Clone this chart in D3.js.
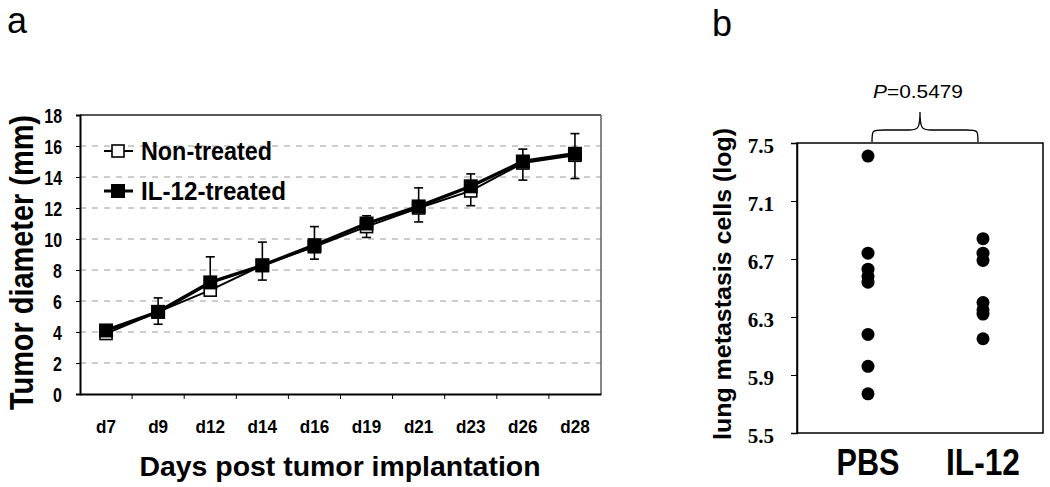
<!DOCTYPE html>
<html><head><meta charset="utf-8">
<script src="https://cdn.jsdelivr.net/npm/d3@7"></script>
<style>body{margin:0;background:#fff}svg{display:block}</style>
</head><body><svg id="c" width="1050" height="487"></svg>
<script>
// ---------- data (panel a) ----------
const days = ["d7","d9","d12","d14","d16","d19","d21","d23","d26","d28"];
const nonTreated = [3.9, 5.3, 6.7, 8.3, 9.5, 10.8, 12.0, 13.1, 14.9, 15.4];
const il12Treated = [4.1, 5.3, 7.2, 8.3, 9.6, 11.0, 12.1, 13.4, 15.0, 15.5];
const errTop = [4.3, 6.2, 8.85, 9.8, 10.8, 11.5, 13.3, 14.2, 15.8, 16.8];
const errBottom = [3.75, 4.5, 6.35, 7.35, 8.7, 10.1, 11.1, 12.15, 13.8, 13.9];
const yTicksA = [0, 2, 4, 6, 8, 10, 12, 14, 16, 18];
// ---------- data (panel b) ----------
const groups = ["PBS", "IL-12"];
const pbsValues = [7.41, 6.74, 6.63, 6.58, 6.54, 6.18, 5.96, 5.77];
const il12Values = [6.84, 6.74, 6.69, 6.40, 6.35, 6.32, 6.15];
const yTicksB = [5.5, 5.9, 6.3, 6.7, 7.1, 7.5];
const pLabel = "0.5479";

const svg = d3.select("#c");
const SANS = "'Liberation Sans', Arial, sans-serif";
const SERIF = "'Liberation Serif', 'Times New Roman', serif";
function squeeze(sel, k) {
  sel.each(function () {
    const w = this.getComputedTextLength();
    d3.select(this).attr("textLength", w * k).attr("lengthAdjust", "spacingAndGlyphs");
  });
}

// ================= PANEL A =================
const A = {l: 80, r: 601, t: 115, b: 394};
const x = d3.scaleBand().domain(days).range([A.l, A.r]).padding(0);
const y = d3.scaleLinear().domain([0, 18]).range([A.b, A.t]);
const cx = d => x(d) + x.bandwidth() / 2;

svg.append("text").attr("x", 7).attr("y", 33).attr("font-family", SANS)
  .attr("font-size", 37).attr("textLength", 20).attr("lengthAdjust", "spacingAndGlyphs").text("a");

// grid
svg.append("g").selectAll("line").data(yTicksA.filter(v => v > 0 && v < 18)).join("line")
  .attr("x1", A.l).attr("x2", A.r).attr("y1", d => y(d)).attr("y2", d => y(d))
  .attr("stroke", "#9a9a9a").attr("stroke-width", 1).attr("stroke-dasharray", "6,6");

// frame
svg.append("line").attr("x1", A.l).attr("x2", A.r).attr("y1", A.t).attr("y2", A.t).attr("stroke", "#222").attr("stroke-width", 1.6);
svg.append("line").attr("x1", A.r).attr("x2", A.r).attr("y1", A.t).attr("y2", A.b).attr("stroke", "#555").attr("stroke-width", 1.4);

// y axis
const yAx = svg.append("g").attr("transform", `translate(${A.l},0)`)
  .call(d3.axisLeft(y).tickValues(yTicksA).tickSize(4).tickPadding(14).tickFormat(d3.format("d")));
yAx.select(".domain").attr("stroke", "#000").attr("stroke-width", 2);
yAx.selectAll(".tick line").attr("stroke", "#000");
yAx.selectAll("text").attr("font-family", SANS).attr("font-weight", "bold").attr("font-size", 21)
  .attr("fill", "#000").attr("dy", "0.36em").call(squeeze, 0.76);

// x axis
const xAx = svg.append("g").attr("transform", `translate(0,${A.b})`)
  .call(d3.axisBottom(x).tickSize(0));
xAx.select(".domain").attr("stroke", "#000").attr("stroke-width", 2);
xAx.selectAll("text").attr("font-family", SANS).attr("font-weight", "bold").attr("font-size", 19)
  .attr("fill", "#000").attr("y", 39).attr("dy", 0).call(squeeze, 0.9);
// boundary ticks
svg.append("g").selectAll("line").data(days.slice(1)).join("line")
  .attr("x1", d => x(d)).attr("x2", d => x(d)).attr("y1", A.b).attr("y2", A.b + 5)
  .attr("stroke", "#000").attr("stroke-width", 1);

// titles
svg.append("text").attr("transform", `translate(33,${(A.t + A.b) / 2 + 8}) rotate(-90)`)
  .attr("text-anchor", "middle").attr("font-family", SANS).attr("font-weight", "bold")
  .attr("font-size", 33).attr("textLength", 295).attr("lengthAdjust", "spacingAndGlyphs")
  .text("Tumor diameter (mm)");
svg.append("text").attr("x", 340).attr("y", 476).attr("text-anchor", "middle")
  .attr("font-family", SANS).attr("font-weight", "bold").attr("font-size", 27)
  .attr("textLength", 401).attr("lengthAdjust", "spacingAndGlyphs")
  .text("Days post tumor implantation");

// error bars
const eb = svg.append("g").attr("stroke", "#000").attr("stroke-width", 1.6);
days.forEach((d, i) => {
  eb.append("line").attr("x1", cx(d)).attr("x2", cx(d)).attr("y1", y(errTop[i])).attr("y2", y(errBottom[i]));
  [errTop[i], errBottom[i]].forEach(v => eb.append("line").attr("x1", cx(d) - 4.5).attr("x2", cx(d) + 4.5)
    .attr("y1", y(v)).attr("y2", y(v)));
});

// lines
const lineGen = d3.line().x((v, i) => cx(days[i])).y(v => y(v));
svg.append("path").datum(nonTreated).attr("d", lineGen).attr("fill", "none").attr("stroke", "#000").attr("stroke-width", 2);
svg.append("g").selectAll("rect").data(nonTreated).join("rect")
  .attr("x", (v, i) => cx(days[i]) - 6).attr("y", v => y(v) - 6).attr("width", 12).attr("height", 12)
  .attr("fill", "#fff").attr("stroke", "#000").attr("stroke-width", 1.6);
svg.append("path").datum(il12Treated).attr("d", lineGen).attr("fill", "none").attr("stroke", "#000").attr("stroke-width", 3.4);
svg.append("g").selectAll("rect").data(il12Treated).join("rect")
  .attr("x", (v, i) => cx(days[i]) - 7).attr("y", v => y(v) - 7).attr("width", 14).attr("height", 14)
  .attr("fill", "#000");

// legend
const leg = [{name: "Non-treated", open: true, y: 151}, {name: "IL-12-treated", open: false, y: 191}];
leg.forEach(L => {
  svg.append("line").attr("x1", 104).attr("x2", 133).attr("y1", L.y).attr("y2", L.y)
    .attr("stroke", "#000").attr("stroke-width", L.open ? 2 : 3);
  svg.append("rect").attr("x", L.open ? 112 : 111).attr("y", L.y - (L.open ? 6 : 7))
    .attr("width", L.open ? 12 : 14).attr("height", L.open ? 12 : 14)
    .attr("fill", L.open ? "#fff" : "#000").attr("stroke", "#000").attr("stroke-width", L.open ? 1.6 : 0);
  svg.append("text").attr("x", 141).attr("y", L.y + 9).attr("font-family", SANS).attr("font-weight", "bold")
    .attr("font-size", 26).attr("textLength", L.open ? 131 : 145).attr("lengthAdjust", "spacingAndGlyphs")
    .text(L.name);
});

// ================= PANEL B =================
const B = {l: 797, r: 1043, t: 143, b: 433};
const xb = d3.scalePoint().domain(groups).range([868, 983]);
const yb = d3.scaleLinear().domain([5.5, 7.5]).range([B.b, B.t]);

svg.append("text").attr("x", 712).attr("y", 36).attr("font-family", SANS)
  .attr("font-size", 36).attr("textLength", 20).attr("lengthAdjust", "spacingAndGlyphs").text("b");

svg.append("rect").attr("x", B.l).attr("y", B.t).attr("width", B.r - B.l).attr("height", B.b - B.t)
  .attr("fill", "none").attr("stroke", "#000").attr("stroke-width", 1.5);
const ybAx = svg.append("g").attr("transform", `translate(${B.l},0)`)
  .call(d3.axisLeft(yb).tickValues(yTicksB).tickSize(6).tickPadding(17).tickFormat(d3.format(".1f")));
ybAx.select(".domain").attr("stroke", "#000").attr("stroke-width", 1.5);
ybAx.selectAll(".tick line").attr("stroke", "#000");
ybAx.selectAll("text").attr("font-family", SERIF).attr("font-weight", "bold").attr("font-size", 21)
  .attr("fill", "#000").attr("dy", "0.45em").call(squeeze, 1.0);

svg.append("text").attr("transform", `translate(731,284) rotate(-90)`).attr("text-anchor", "middle")
  .attr("font-family", SANS).attr("font-weight", "bold").attr("font-size", 23)
  .attr("textLength", 312).attr("lengthAdjust", "spacingAndGlyphs")
  .text("lung metastasis cells (log)");

// group labels
[{g: "PBS", w: 63}, {g: "IL-12", w: 74}].forEach(o => {
  svg.append("text").attr("x", xb(o.g)).attr("y", 475).attr("text-anchor", "middle")
    .attr("font-family", SANS).attr("font-weight", "bold").attr("font-size", 36)
    .attr("textLength", o.w).attr("lengthAdjust", "spacingAndGlyphs").text(o.g);
});

// dots
svg.append("g").selectAll("circle").data(pbsValues).join("circle")
  .attr("cx", xb("PBS")).attr("cy", v => yb(v)).attr("r", 6.5).attr("fill", "#000");
svg.append("g").selectAll("circle").data(il12Values).join("circle")
  .attr("cx", xb("IL-12")).attr("cy", v => yb(v)).attr("r", 6.5).attr("fill", "#000");

// brace
const bx1 = xb("PBS") + 4, bx2 = xb("IL-12") - 5, bm = 920, by0 = B.t - 1, by1 = 130, byp = 112;
const brace = `M${bx1},${by0} C${bx1},${by1} ${bx1},${by1} ${bx1 + 12},${by1} L${bm - 10},${by1}
  C${bm - 2},${by1} ${bm},${by1 - 2} ${bm},${byp} C${bm},${by1 - 2} ${bm + 2},${by1} ${bm + 10},${by1}
  L${bx2 - 12},${by1} C${bx2},${by1} ${bx2},${by1} ${bx2},${by0}`;
svg.append("path").attr("d", brace).attr("fill", "none").attr("stroke", "#000").attr("stroke-width", 1.3);

const pt = svg.append("text").attr("x", 918).attr("y", 98).attr("text-anchor", "middle")
  .attr("font-family", SANS).attr("font-size", 19).attr("textLength", 90).attr("lengthAdjust", "spacingAndGlyphs");
pt.append("tspan").attr("font-style", "italic").text("P");
pt.append("tspan").text("=" + pLabel);
</script></body></html>
